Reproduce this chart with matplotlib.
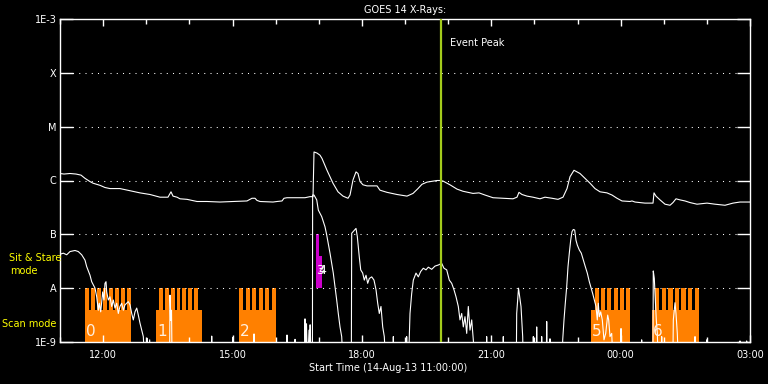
import numpy as np
import matplotlib
matplotlib.use("Agg")
import matplotlib.pyplot as plt
from matplotlib.ticker import FixedLocator, NullLocator

# time axis: hours after start (14-Aug-13 11:00:00)
tick_hours = [1, 4, 7, 10, 13, 16]
tick_labels = ["12:00", "15:00", "18:00", "21:00", "00:00", "03:00"]
minor_hours = list(range(0, 17))

# flux levels (log10 W/m^2)
level_values = [-9, -8, -7, -6, -5, -4, -3]
level_labels = ["1E-9", "A", "B", "C", "M", "X", "1E-3"]
grid_levels = [-8, -7, -6, -5, -4]

# GOES 1-8 A channel (log10 flux)
t_long = [0, 0.093, 0.232, 0.371, 0.487, 0.580, 0.696, 0.765, 0.928, 1.043,
          1.159, 1.391, 1.623, 1.855, 2.087, 2.319, 2.504, 2.574, 2.620, 2.713,
          2.783, 2.945, 3.177, 3.409, 3.710, 4.012, 4.336, 4.452, 4.522, 4.568,
          4.638, 4.939, 5.032, 5.148, 5.194, 5.264, 5.565, 5.681, 5.797, 5.867,
          5.890, 5.959, 6.029, 6.075, 6.191, 6.330, 6.446, 6.562, 6.678, 6.725,
          6.794, 6.864, 6.910, 6.957, 7.026, 7.119, 7.351, 7.420, 7.583, 7.815,
          8.046, 8.186, 8.301, 8.394, 8.510, 8.742, 8.812, 8.881, 9.043, 9.206,
          9.345, 9.577, 9.716, 9.855, 10.041, 10.504, 10.597, 10.643, 10.713, 10.829,
          10.968, 11.130, 11.246, 11.409, 11.548, 11.664, 11.757, 11.826, 11.919, 12.058,
          12.174, 12.290, 12.406, 12.522, 12.684, 12.800, 12.916, 13.032, 13.217, 13.264,
          13.333, 13.565, 13.751, 13.774, 13.820, 13.913, 14.029, 14.145, 14.214, 14.284,
          14.377, 14.493, 14.609, 14.771, 15.003, 15.188, 15.420, 15.606, 15.768, 16.0]
lf_long = [-5.87, -5.88, -5.87, -5.88, -5.90, -5.96, -6.02, -6.05, -6.09, -6.13,
           -6.15, -6.15, -6.19, -6.23, -6.26, -6.31, -6.31, -6.21, -6.29, -6.31,
           -6.34, -6.35, -6.39, -6.39, -6.40, -6.39, -6.38, -6.33, -6.33, -6.37,
           -6.39, -6.40, -6.39, -6.38, -6.33, -6.32, -6.32, -6.32, -6.30, -6.30,
           -5.47, -5.49, -5.53, -5.59, -5.81, -6.05, -6.21, -6.29, -6.33, -6.27,
           -5.99, -5.84, -5.87, -6.02, -6.08, -6.10, -6.10, -6.18, -6.22, -6.26,
           -6.29, -6.24, -6.15, -6.07, -6.03, -6.00, -6.00, -6.01, -6.08, -6.16,
           -6.20, -6.24, -6.23, -6.27, -6.32, -6.34, -6.31, -6.22, -6.26, -6.29,
           -6.31, -6.34, -6.31, -6.33, -6.35, -6.31, -6.15, -5.93, -5.81, -5.87,
           -5.96, -6.05, -6.15, -6.21, -6.23, -6.27, -6.33, -6.38, -6.39, -6.38,
           -6.40, -6.42, -6.42, -6.23, -6.29, -6.36, -6.44, -6.46, -6.41, -6.34,
           -6.36, -6.38, -6.41, -6.44, -6.42, -6.44, -6.46, -6.42, -6.40, -6.40]

# GOES 0.5-4 A channel (log10 flux, -9.5 = below plot range)
t_short = [0, 0.077, 0.155, 0.232, 0.348, 0.424, 0.503, 0.580, 0.619, 0.696,
           0.735, 0.812, 0.851, 0.888, 0.911, 0.944, 0.990, 1.020, 1.043, 1.067,
           1.083, 1.120, 1.159, 1.199, 1.236, 1.275, 1.315, 1.352, 1.391, 1.431,
           1.468, 1.507, 1.547, 1.584, 1.623, 1.663, 1.700, 1.739, 1.779, 1.816,
           1.855, 1.895, 1.932, 1.971,
           2.005, 2.017, 2.030, 2.080, 2.100,
           2.540, 2.551, 2.565, 2.586, 2.600,
           3.510, 3.518, 3.530, 4.000, 4.012, 4.025, 4.490, 4.499, 4.510,
           5.255, 5.264, 5.275, 5.440, 5.450, 5.460,
           5.670, 5.681, 5.695, 5.716, 5.740, 5.774, 5.790, 5.800, 5.830, 5.853,
           5.858, 5.890, 5.953, 5.990, 6.068, 6.145, 6.184, 6.221, 6.261, 6.300,
           6.337, 6.377, 6.416, 6.453, 6.493, 6.532, 6.569,
           6.755, 6.764, 6.864, 6.894, 6.940, 6.973, 7.019, 7.056, 7.096, 7.135,
           7.172, 7.228, 7.281, 7.328, 7.367, 7.404, 7.443, 7.483, 7.520, 7.559,
           7.720, 7.729, 7.740, 8.030, 8.039, 8.050,
           8.077, 8.116, 8.155, 8.193, 8.255, 8.309, 8.364, 8.424, 8.487, 8.541,
           8.619, 8.696, 8.772, 8.851, 8.904, 8.967, 9.027, 9.083, 9.136, 9.183,
           9.236, 9.275, 9.315, 9.352, 9.391, 9.431, 9.468, 9.507, 9.547, 9.584,
           9.623,
           9.885, 9.894, 9.905, 10.270, 10.279, 10.290,
           10.580, 10.590, 10.632, 10.690, 10.729, 10.745,
           10.965, 10.975, 10.990, 11.045, 11.054, 11.065, 11.160, 11.170, 11.180,
           11.275, 11.286, 11.300, 11.355, 11.362, 11.370,
           11.645, 11.657, 11.687, 11.717, 11.750, 11.780, 11.810, 11.842, 11.872, 11.903,
           11.935, 11.965, 11.996, 12.042, 12.088, 12.135, 12.181, 12.227, 12.274, 12.306,
           12.352, 12.390, 12.429, 12.459, 12.482, 12.506, 12.538, 12.575, 12.614, 12.654,
           12.700, 12.723, 12.754, 12.793, 12.830,
           13.000, 13.009, 13.020, 13.480, 13.488, 13.500,
           13.750, 13.757, 13.781, 13.804, 13.827, 13.851, 13.875,
           13.945, 13.953, 13.965,
           14.210, 14.222, 14.261, 14.284, 14.314, 14.347,
           14.715, 14.725, 14.735, 14.990, 14.996, 15.005,
           15.760, 15.768, 15.780, 15.915, 15.923, 15.930, 16.0]
lf_short = [-7.37, -7.35, -7.38, -7.32, -7.30, -7.32, -7.38, -7.48, -7.60, -7.76,
            -7.88, -8.00, -8.16, -8.41, -8.28, -8.44, -8.07, -8.22, -7.91, -7.88,
            -8.07, -8.22, -8.16, -8.34, -8.22, -8.37, -8.28, -8.47, -8.34, -8.28,
            -8.41, -8.31, -8.28, -8.25, -8.31, -8.47, -8.59, -8.44, -8.37, -8.50,
            -8.65, -8.78, -8.90, -9.5,
            -9.5, -8.93, -9.5, -8.96, -9.5,
            -9.5, -8.13, -8.60, -8.41, -9.5,
            -9.5, -8.89, -9.5, -9.5, -8.91, -9.5, -9.5, -8.85, -9.5,
            -9.5, -8.87, -9.5, -9.5, -8.95, -9.5,
            -9.5, -8.57, -9.20, -8.66, -9.5, -8.78, -9.00, -8.68, -9.5, -9.5,
            -6.27, -6.27, -6.36, -6.55, -6.67, -6.86, -7.01, -7.17, -7.35, -7.54,
            -7.72, -7.97, -8.22, -8.47, -8.72, -8.90, -9.5,
            -9.5, -6.98, -6.89, -7.04, -7.42, -7.66, -7.72, -7.85, -7.76, -7.91,
            -7.82, -7.79, -7.85, -8.03, -8.28, -8.47, -8.34, -8.72, -8.90, -9.5,
            -9.5, -8.90, -9.5, -9.5, -8.90, -9.5,
            -9.5, -8.47, -8.10, -7.85, -7.72, -7.79, -7.69, -7.63, -7.66, -7.61,
            -7.65, -7.59, -7.57, -7.54, -7.63, -7.66, -7.85, -7.91, -8.03, -8.16,
            -8.34, -8.59, -8.47, -8.72, -8.53, -8.84, -8.34, -8.78, -8.59, -8.96,
            -9.5,
            -9.5, -8.90, -9.5, -9.5, -8.90, -9.5,
            -9.5, -8.47, -8.00, -8.34, -8.90, -9.5,
            -9.5, -8.90, -9.5, -9.5, -8.72, -9.5, -9.5, -8.90, -9.5,
            -9.5, -8.62, -9.5, -9.5, -8.94, -9.5,
            -9.5, -8.96, -8.59, -8.28, -7.97, -7.60, -7.35, -7.11, -6.95, -6.91,
            -6.92, -7.11, -7.20, -7.29, -7.35, -7.48, -7.60, -7.72, -7.88, -7.97,
            -8.10, -8.22, -8.34, -8.59, -8.28, -8.53, -8.44, -8.59, -8.96, -8.84,
            -8.50, -8.59, -8.90, -8.84, -9.5,
            -9.5, -8.75, -9.5, -9.5, -8.96, -9.5,
            -9.5, -7.68, -7.82, -8.22, -8.59, -8.84, -9.5,
            -9.5, -8.90, -9.5,
            -9.5, -8.59, -8.27, -8.47, -8.84, -9.5,
            -9.5, -8.90, -9.5, -9.5, -8.96, -9.5,
            -9.5, -8.98, -9.5, -9.5, -8.98, -9.5, -9.5]

# IRIS scan mode rasters (hours)
scan_start = [0.580, 2.226, 4.151, 12.313, 13.728]
scan_end = [1.646, 3.293, 5.009, 13.217, 14.817]
comb_start = [0.580, 2.296, 4.151, 12.406, 13.797]
comb_end = [1.646, 3.200, 5.009, 13.217, 14.817]
comb_teeth = [8, 7, 6, 6, 7]
scan_labels = ["0", "1", "2", "5", "6"]
scan_low = -8.41

# sit & stare rasters
stare_start = [5.936, 5.936]
stare_end = [6.006, 6.075]
stare_top = [-7.0, -7.40]
stare_bottom = [-7.40, -8.0]
stare_labels = ["3", "4"]

event_peak = 8.835

orange = "#ff8000"
magenta = "#cc00cc"

fig = plt.figure(figsize=(7.68, 3.84), dpi=100, facecolor="black")
ax = fig.add_axes([60 / 768, 42 / 384, 690 / 768, 323 / 384], facecolor="black")
ax.set_yscale("log")
ax.set_xlim(0, 16)
ax.set_ylim(1e-9, 1e-3)

# scan blocks with comb teeth
for s, e, cs, ce, n, lab in zip(scan_start, scan_end, comb_start, comb_end, comb_teeth, scan_labels):
    ax.bar(s, 10 ** scan_low - 1e-9, bottom=1e-9, width=e - s, align="edge",
           color=orange, linewidth=0, zorder=1)
    p = (ce - cs) / (n - 1 / 3)
    for i in range(n):
        ax.bar(cs + i * p, 1e-8 - 10 ** (scan_low - 0.01), bottom=10 ** (scan_low - 0.01),
               width=2 * p / 3, align="edge", color=orange, linewidth=0, zorder=1)
    ax.text(s + 0.02, 10 ** -8.95, lab, color="#fff0e0", fontsize=11,
            ha="left", va="bottom", zorder=4)

for s, e, top, bot in zip(stare_start, stare_end, stare_top, stare_bottom):
    ax.bar(s, 10 ** top - 10 ** bot, bottom=10 ** bot, width=e - s, align="edge",
           color=magenta, linewidth=0, zorder=1)
ax.text(5.93, 10 ** -7.68, stare_labels[0], color="white", fontsize=9, ha="left", va="center", zorder=4)
ax.text(5.99, 10 ** -7.68, stare_labels[1], color="white", fontsize=9, ha="left", va="center", zorder=4)

# dotted level lines
for lv in grid_levels:
    ax.axhline(10 ** lv, color="white", linewidth=0.75, linestyle=(0, (1, 5)), zorder=2)

ax.plot(t_long, 10 ** np.array(lf_long), color="white", linewidth=0.8, zorder=3)
ax.plot(t_short, 10 ** np.array(lf_short), color="white", linewidth=0.8, zorder=3)

ax.axvline(event_peak, color="#a4cc1c", linewidth=1.6, zorder=5)
ax.text(event_peak + 0.21, 10 ** -3.45, "Event Peak", color="white", fontsize=7,
        ha="left", va="center")

# axes styling
for sp in ax.spines.values():
    sp.set_color("white")
    sp.set_linewidth(1.0)

ax.yaxis.set_major_locator(FixedLocator([10.0 ** v for v in level_values]))
ax.yaxis.set_minor_locator(NullLocator())
ax.set_yticklabels(level_labels)
ax.tick_params(axis="y", which="major", direction="in", length=9.5, width=1.0,
               colors="white", left=True, right=True, labelsize=7, pad=2.5)

ax.xaxis.set_major_locator(FixedLocator(tick_hours))
ax.xaxis.set_minor_locator(FixedLocator(minor_hours))
ax.set_xticklabels(tick_labels)
ax.tick_params(axis="x", which="major", direction="in", length=5, width=1.0,
               colors="white", top=True, bottom=True, labelsize=7, pad=6)
ax.tick_params(axis="x", which="minor", direction="in", length=3.5, width=1.0,
               colors="white", top=True, bottom=True)

fig.text(405 / 768, 1 - 10 / 384, "GOES 14 X-Rays:", color="white", fontsize=7,
         ha="center", va="center")
fig.text(388 / 768, 1 - 368 / 384, "Start Time (14-Aug-13 11:00:00)", color="white",
         fontsize=7, ha="center", va="center")
fig.text(35 / 768, 1 - 258 / 384, "Sit & Stare", color="yellow", fontsize=7,
         ha="center", va="center")
fig.text(24 / 768, 1 - 271 / 384, "mode", color="yellow", fontsize=7,
         ha="center", va="center")
fig.text(2 / 768, 1 - 324 / 384, "Scan mode", color="yellow", fontsize=7,
         ha="left", va="center")

fig.savefig("out.png", dpi=100, facecolor="black")
